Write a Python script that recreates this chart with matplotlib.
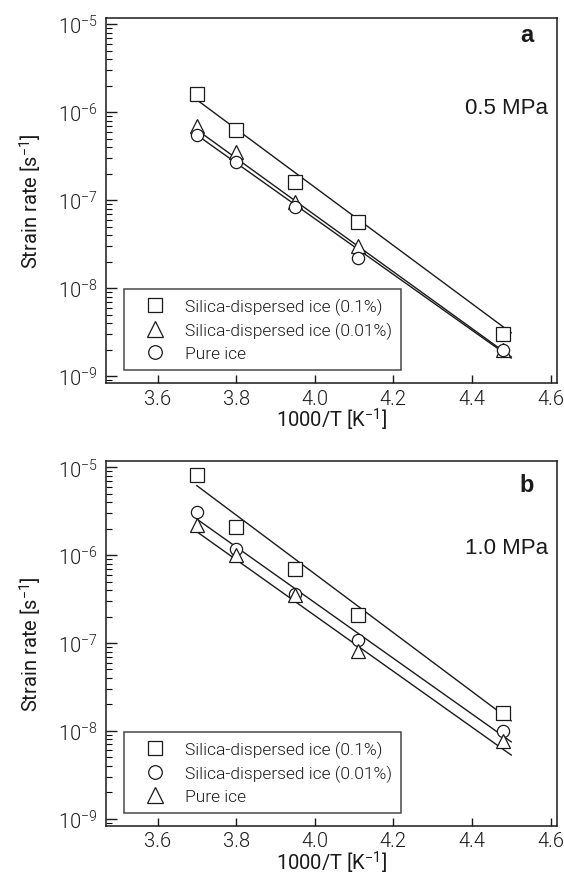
import matplotlib
matplotlib.use("Agg")
import matplotlib.pyplot as plt
from matplotlib.lines import Line2D
from matplotlib.ticker import LogLocator, FixedLocator, NullFormatter

FONT = "Roboto"
plt.rcParams["font.family"] = [FONT, "DejaVu Sans"]
plt.rcParams["font.weight"] = 300
plt.rcParams["mathtext.fontset"] = "custom"
plt.rcParams["mathtext.rm"] = FONT + ":light"
plt.rcParams["mathtext.default"] = "regular"
ARIAL = ["Liberation Sans", "DejaVu Sans"]

# inverse temperature, 1000/T [K^-1]
inv_T = [3.70, 3.80, 3.95, 4.11, 4.48]
fit_x = [3.70, 4.50]

# panel a, 0.5 MPa
a_silica_01 = [1.6e-6, 6.3e-7, 1.6e-7, 5.6e-8, 3.0e-9]
a_silica_001 = [7.0e-7, 3.5e-7, 9.5e-8, 3.0e-8, 2.0e-9]
a_pure = [5.5e-7, 2.7e-7, 8.3e-8, 2.2e-8, 2.0e-9]
a_fit_silica_01 = [1.38e-6, 3.1e-9]
a_fit_silica_001 = [6.3e-7, 1.65e-9]
a_fit_pure = [5.5e-7, 1.6e-9]

# panel b, 1.0 MPa
b_silica_01 = [8.3e-6, 2.07e-6, 6.9e-7, 2.07e-7, 1.58e-8]
b_silica_001 = [3.07e-6, 1.19e-6, 3.6e-7, 1.09e-7, 9.9e-9]
b_pure = [2.2e-6, 1.0e-6, 3.5e-7, 8.1e-8, 7.7e-9]
b_fit_silica_01 = [6.2e-6, 1.3e-8]
b_fit_silica_001 = [2.58e-6, 7.5e-9]
b_fit_pure = [1.85e-6, 5.3e-9]

x_ticks = [3.6, 3.8, 4.0, 4.2, 4.4, 4.6]
y_ticks = [1e-9, 1e-8, 1e-7, 1e-6, 1e-5]
y_tick_labels = ["$10^{-9}$", "$10^{-8}$", "$10^{-7}$", "$10^{-6}$", "$10^{-5}$"]

label_01 = "Silica-dispersed ice (0.1%)"
label_001 = "Silica-dispersed ice (0.01%)"
label_pure = "Pure ice"

INK = "#1a1a1a"
MS = {"s": 9.5, "^": 10, "o": 8.8}


def draw_panel(ax, series, fits, legend_order, letter, letter_y, stress, stress_y):
    for (marker, vals), fit in zip(series, fits):
        ax.plot(fit_x, fit, color=INK, linewidth=1.0, zorder=2)
        ax.plot(inv_T, vals, linestyle="none", marker=marker, markersize=MS[marker],
                markerfacecolor="white", markeredgecolor=INK, markeredgewidth=0.9, zorder=3)

    ax.set_yscale("log")
    ax.set_xlim(3.468, 4.6165)
    ax.set_ylim(10 ** -9.08, 10 ** -4.93)
    ax.xaxis.set_major_locator(FixedLocator(x_ticks))
    ax.set_xticklabels([f"{v:.1f}" for v in x_ticks])
    ax.set_yticks(y_ticks)
    ax.set_yticklabels(y_tick_labels)
    ax.yaxis.set_minor_locator(LogLocator(base=10, subs=range(2, 10)))
    ax.yaxis.set_minor_formatter(NullFormatter())
    ax.tick_params(axis="both", which="major", direction="in", labelsize=14.5,
                   colors=INK, width=1.0, pad=6)
    ax.tick_params(axis="x", which="major", pad=4)
    ax.tick_params(axis="y", which="major", length=8)
    ax.tick_params(axis="x", which="major", length=6)
    ax.tick_params(axis="y", which="minor", direction="in", length=4, width=0.8)
    for s in ax.spines.values():
        s.set_linewidth(1.1)
        s.set_color(INK)

    ax.set_xlabel("1000/T [K$^{-1}$]", fontsize=14.5, color=INK, labelpad=-1)
    ax.set_ylabel("Strain rate [s$^{-1}$]", fontsize=14.5, color=INK, labelpad=10)

    ax.text(0.949, letter_y, letter, transform=ax.transAxes, ha="right", va="baseline",
            fontsize=17, fontweight="bold", color=INK, family=ARIAL)
    ax.text(0.981, stress_y, stress, transform=ax.transAxes, ha="right", va="center",
            fontsize=16, color=INK, family=ARIAL)

    handles = [Line2D([], [], linestyle="none", marker=m, markersize=MS[m] + 1,
                      markerfacecolor="white", markeredgecolor=INK, markeredgewidth=0.9)
               for m, _ in legend_order]
    labels = [lab for _, lab in legend_order]
    leg = ax.legend(handles, labels, loc="lower left", bbox_to_anchor=(0.041, 0.036),
                    borderaxespad=0, fontsize=12.5, frameon=True, fancybox=False,
                    handletextpad=0.5, labelspacing=0.4, borderpad=0.5,
                    handlelength=2.5)
    leg.get_frame().set_edgecolor(INK)
    leg.get_frame().set_linewidth(1.1)
    for t in leg.get_texts():
        t.set_color(INK)


fig = plt.figure(figsize=(5.64, 8.79), dpi=100)
ax_a = fig.add_axes([0.1874, 0.5631, 0.8002, 0.4152])
ax_b = fig.add_axes([0.1874, 0.0595, 0.8002, 0.4146])

draw_panel(ax_a,
           [("s", a_silica_01), ("^", a_silica_001), ("o", a_pure)],
           [a_fit_silica_01, a_fit_silica_001, a_fit_pure],
           [("s", label_01), ("^", label_001), ("o", label_pure)],
           "a", 0.938, "0.5 MPa", 0.756)
draw_panel(ax_b,
           [("s", b_silica_01), ("o", b_silica_001), ("^", b_pure)],
           [b_fit_silica_01, b_fit_silica_001, b_fit_pure],
           [("s", label_01), ("o", label_001), ("^", label_pure)],
           "b", 0.919, "1.0 MPa", 0.764)

fig.savefig("out.png", dpi=100)
